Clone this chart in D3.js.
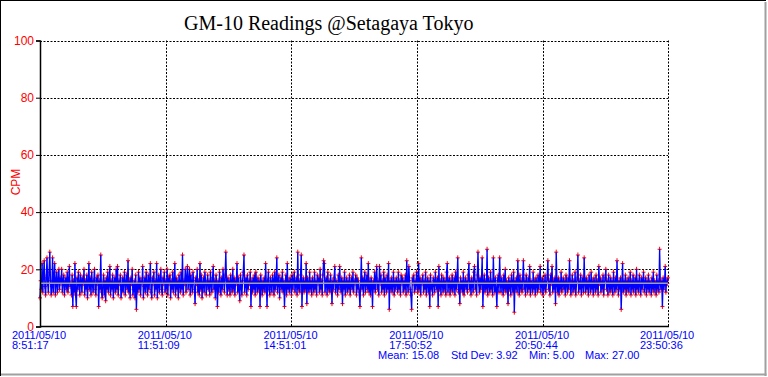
<!DOCTYPE html>
<html><head><meta charset="utf-8">
<script src="https://cdn.jsdelivr.net/npm/d3@7"></script>
<style>html,body{margin:0;padding:0;background:#fff;}svg{display:block;}</style>
</head><body>
<script>
const chartTitle = "GM-10 Readings @Setagaya Tokyo";
const yTicks = [0, 20, 40, 60, 80, 100];
const xTickDates = ["2011/05/10","2011/05/10","2011/05/10","2011/05/10","2011/05/10","2011/05/10"];
const xTickTimes = ["8:51:17","11:51:09","14:51:01","17:50:52","20:50:44","23:50:36"];
const xTickIndex = [0, 180, 360, 540, 720, 899];
const statLabels = ["Mean: 15.08","Std Dev: 3.92","Min: 5.00","Max: 27.00"];
const meanValue = 15.08;
const cpm = [
10,16,13,22,12,18,23,14,11,17,24,15,12,19,26,16,11,14,24,12,17,22,11,15,19,12,16,20,13,17,
15,20,12,16,18,11,15,17,13,19,12,16,21,14,15,11,18,7,16,12,22,11,7,17,13,19,15,11,18,16,
12,17,15,20,11,16,13,18,10,15,22,13,17,11,19,15,12,16,20,13,11,17,15,18,7,16,13,25,12,10,
15,18,11,16,9,17,13,19,12,15,21,11,16,13,18,10,15,17,12,20,13,21,11,16,15,18,10,13,17,12,
16,19,11,15,18,13,23,12,16,10,17,15,20,11,13,16,10,18,6,15,12,19,13,17,11,16,15,21,10,14,
17,12,19,15,11,18,13,16,22,12,10,17,15,19,11,16,13,22,10,15,18,12,16,20,13,11,17,15,19,12,
16,13,20,11,17,15,18,10,16,13,19,12,15,22,11,17,13,16,10,18,15,12,19,13,25,11,16,15,20,12,
17,21,13,16,20,11,18,15,12,19,16,13,8,17,15,20,12,16,11,22,13,18,10,15,17,12,19,16,11,15,
18,13,16,11,19,15,12,17,21,13,16,10,18,15,7,16,12,19,15,11,17,13,20,16,12,18,26,15,11,17,
13,16,11,18,15,12,20,13,17,11,16,15,22,12,17,13,9,18,15,11,16,19,25,12,15,17,11,18,13,16,
15,19,7,16,12,17,13,18,11,19,15,12,17,13,16,7,18,15,11,16,13,17,12,22,15,7,16,19,13,11,
17,15,12,18,16,11,19,13,15,24,12,16,18,10,15,17,13,19,12,16,7,15,18,11,22,13,16,12,17,15,
11,18,13,16,19,12,15,17,11,26,13,16,12,18,25,7,15,17,12,16,13,22,8,17,15,12,19,13,16,11,
17,15,12,19,13,16,11,18,15,17,12,20,13,16,11,18,23,22,12,15,17,11,19,13,16,12,18,15,8,16,
13,17,21,12,16,15,11,18,13,21,15,12,17,8,16,13,19,11,15,17,12,16,13,18,11,15,17,13,19,12,
16,15,18,11,17,13,16,12,7,15,24,13,17,11,16,19,12,15,18,13,22,12,16,11,17,15,7,16,13,19,
12,17,21,13,16,11,21,15,18,12,16,13,19,11,17,15,12,18,13,22,6,16,13,17,12,15,19,11,16,13,
17,15,12,19,13,16,11,18,15,17,12,16,13,18,11,23,15,12,21,16,13,11,6,17,15,18,12,16,13,19,
15,12,22,13,17,11,16,15,18,12,16,13,19,11,15,17,12,16,7,18,13,15,11,17,16,12,19,15,13,17,
7,21,13,16,11,18,15,12,17,13,16,11,19,22,12,15,17,11,16,13,18,12,15,17,11,19,13,16,24,12,
15,8,17,13,16,12,19,11,15,17,13,16,12,18,22,13,16,11,17,15,12,19,21,13,16,11,18,26,15,12,
17,13,16,24,7,15,18,12,16,13,27,11,17,15,12,19,13,16,11,24,15,12,17,13,7,16,18,12,24,15,
12,17,15,11,18,13,20,12,16,15,8,17,13,16,11,18,15,12,19,5,16,13,17,12,23,15,11,18,13,16,
12,17,23,13,16,11,18,15,12,17,13,21,11,16,15,12,19,13,16,11,17,15,12,18,13,16,21,12,15,17,
11,16,13,18,12,15,17,23,13,16,11,18,15,21,12,16,13,17,8,26,15,12,17,11,16,13,19,12,15,17,
13,16,11,18,15,12,17,13,23,16,11,15,18,12,16,13,19,11,15,17,25,12,16,13,18,11,15,17,12,24,
15,12,17,13,16,11,18,15,12,19,13,16,11,17,15,12,18,13,16,11,21,15,17,12,16,13,18,11,15,17,
20,13,16,11,18,15,12,17,13,16,11,19,15,12,17,13,23,15,11,16,13,17,6,15,22,12,16,13,18,11,
16,13,17,12,15,19,11,16,13,18,12,15,17,11,20,13,16,12,18,15,11,17,13,16,19,12,15,17,11,16,
13,18,12,16,15,11,17,13,19,12,16,15,11,18,13,16,12,27,15,13,16,7,17,13,15,21,12,16,15,17
];

const W = 768, H = 377;
const plot = {left: 40, right: 668, top: 40.5, bottom: 326.5};
const svg = d3.select("body").append("svg").attr("width", W).attr("height", H);
svg.append("rect").attr("width", W).attr("height", H).attr("fill", "#fff");

// window frame
svg.append("line").attr("x1",0).attr("x2",766).attr("y1",0.5).attr("y2",0.5).attr("stroke","#000");
svg.append("line").attr("x1",0.5).attr("x2",0.5).attr("y1",0).attr("y2",376).attr("stroke","#000");
svg.append("line").attr("x1",765.5).attr("x2",765.5).attr("y1",2).attr("y2",376).attr("stroke","#a0a0a0").attr("stroke-width",2);
svg.append("line").attr("x1",1).attr("x2",766.5).attr("y1",374.5).attr("y2",374.5).attr("stroke","#a0a0a0").attr("stroke-width",2);

const x = d3.scaleLinear().domain([0, cpm.length - 1]).range([plot.left, plot.right]);
const y = d3.scaleLinear().domain([0, 100]).range([plot.bottom, plot.top]);

// title
svg.append("text").attr("x", 184).attr("y", 30).attr("font-family", "'Liberation Serif','Times New Roman',serif")
  .attr("font-size", 20).attr("fill", "#000").text(chartTitle);

// horizontal grid (dotted)
const g = svg.append("g");
g.selectAll("line.hg").data(yTicks.filter(d => d > 0)).join("line")
  .attr("x1", plot.left).attr("x2", plot.right)
  .attr("y1", d => Math.round(y(d)) + 0.5).attr("y2", d => Math.round(y(d)) + 0.5)
  .attr("stroke", "#000").attr("stroke-dasharray", "2,1.5");
// vertical grid (dotted)
g.selectAll("line.vg").data(xTickIndex.slice(1)).join("line")
  .attr("x1", d => Math.round(x(d)) + 0.5).attr("x2", d => Math.round(x(d)) + 0.5)
  .attr("y1", plot.top).attr("y2", plot.bottom)
  .attr("stroke", "#000").attr("stroke-dasharray", "2,1.5");

// data markers (red plus) then line
const pts = cpm.map((v, i) => [x(i), y(v)]);
svg.append("path").attr("fill", "none").attr("stroke", "#ff0000").attr("stroke-width", 1)
  .attr("d", pts.map(p => `M${p[0]-2},${p[1]}h4M${p[0]},${p[1]-2.5}v5`).join(""));
svg.append("path").datum(cpm).attr("fill", "none").attr("stroke", "#0000ff").attr("stroke-width", 1.35)
  .attr("d", d3.line().x((d, i) => x(i)).y(d => y(d)));

// mean line
svg.append("line").attr("x1", plot.left).attr("x2", plot.right)
  .attr("y1", y(meanValue)).attr("y2", y(meanValue))
  .attr("stroke", "#a0a0a0").attr("stroke-width", 1.5);

// axes (left and bottom, solid)
const yAxis = d3.axisLeft(y).tickValues(yTicks).tickSize(4).tickPadding(2);
const ya = svg.append("g").attr("transform", `translate(${plot.left},0)`).call(yAxis);
ya.select(".domain").attr("stroke", "#000").attr("stroke-width", 1.5);
ya.selectAll(".tick line").attr("stroke", "#000");
ya.selectAll(".tick text").attr("fill", "#ff0000").attr("font-size", 12)
  .attr("font-family", "'Liberation Sans Narrow','Liberation Sans',Arial,sans-serif");

svg.append("line").attr("x1", plot.left).attr("x2", plot.right + 1)
  .attr("y1", plot.bottom).attr("y2", plot.bottom).attr("stroke", "#000").attr("stroke-width", 1.5);

// CPM label
svg.append("text").attr("transform", `translate(20,182) rotate(-90)`).attr("text-anchor", "middle")
  .attr("fill", "#ff0000").attr("font-size", 12).attr("font-family", "'Liberation Sans',Arial,sans-serif").text("CPM");

// x labels
const xl = svg.append("g").attr("font-family", "'Liberation Sans',Arial,sans-serif").attr("font-size", 11).attr("fill", "#0000ff");
xTickIndex.forEach((idx, k) => {
  const cx = x(idx);
  xl.append("text").attr("x", cx - 28).attr("y", 338.5).text(xTickDates[k]);
  xl.append("text").attr("x", cx - 28).attr("y", 348.5).text(xTickTimes[k]);
});

// stats
const statX = [378, 451, 529, 585];
const st = svg.append("g").attr("font-family", "'Liberation Sans',Arial,sans-serif").attr("font-size", 11).attr("fill", "#0000ff");
statLabels.forEach((s, k) => st.append("text").attr("x", statX[k]).attr("y", 358.5).text(s));
</script>
</body></html>
